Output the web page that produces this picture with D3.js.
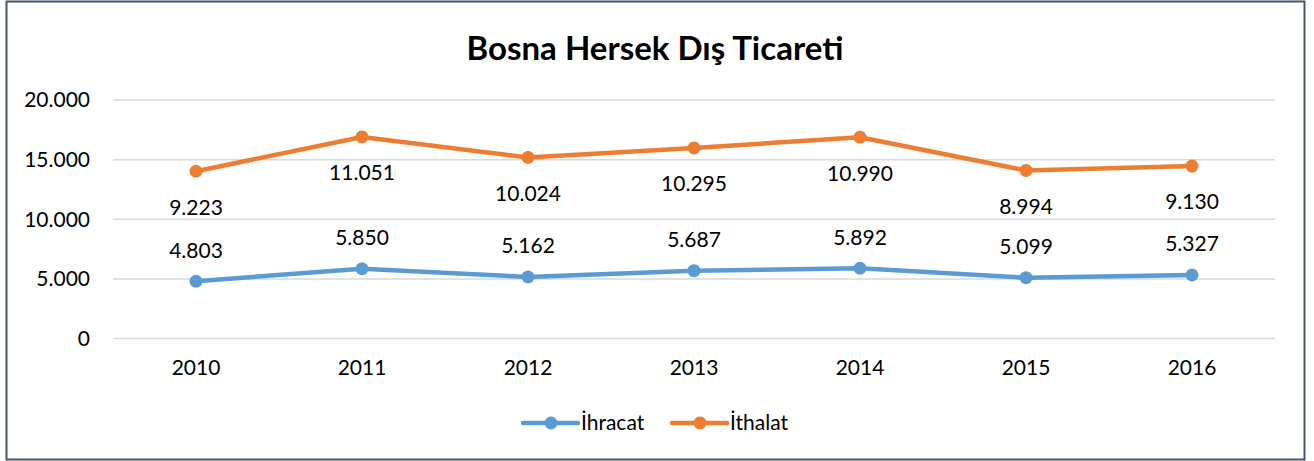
<!DOCTYPE html>
<html><head><meta charset="utf-8">
<script src="https://cdn.jsdelivr.net/npm/d3@7"></script>
<style>body{margin:0;background:#fff}svg{display:block}text{font-family:Lato,"Open Sans",sans-serif}</style>
</head><body><svg id="c" width="1314" height="461"></svg>
<script>
const years = ["2010","2011","2012","2013","2014","2015","2016"];
const ihracat = [4803,5850,5162,5687,5892,5099,5327];
const ithalat = [9223,11051,10024,10295,10990,8994,9130];
const yTicks = [0,5000,10000,15000,20000];
const title = "Bosna Hersek Dış Ticareti";
const seriesNames = ["İhracat","İthalat"];
const colors = ["#5B9BD5","#ED7D31"];

const FS = 21;
const svg = d3.select("#c");
svg.append("rect").attr("x",6.5).attr("y",1.5).attr("width",1298).attr("height",458)
  .attr("fill","#fff").attr("stroke","#44546A").attr("stroke-width",2);

svg.append("text").attr("x",655).attr("y",60).attr("text-anchor","middle")
  .attr("font-size",33).attr("font-weight","bold").attr("fill","#000").text(title);

const x = d3.scaleBand().domain(years).range([113,1275]);
const y = d3.scaleLinear().domain([0,20000]).range([338.5,100]);
const fmt = v => d3.format(",")(v).replace(/,/g,".");

const grid = svg.append("g");
yTicks.forEach(t=>{
  grid.append("line").attr("x1",113).attr("x2",1275).attr("y1",y(t)).attr("y2",y(t))
    .attr("stroke","#D9D9D9").attr("stroke-width",1.5);
  grid.append("text").attr("x",90).attr("y",y(t)).attr("dy","0.35em").attr("text-anchor","end")
    .attr("font-size",FS).attr("fill","#000").text(fmt(t));
});
const xAxis = svg.append("g").attr("transform","translate(0,338.5)")
  .call(d3.axisBottom(x).tickSize(0).tickPadding(22));
xAxis.select(".domain").remove();
xAxis.selectAll("text").attr("font-size",FS).attr("fill","#000").attr("font-family","Lato,'Open Sans',sans-serif");

const stacked = ithalat.map((v,i)=>v+ihracat[i]);
const cx = d => x(d)+x.bandwidth()/2;
const line = d3.line().x((d,i)=>cx(years[i])).y(d=>y(d));

[[ihracat,ihracat,-31],[stacked,ithalat,36]].forEach(([vals,labels,off],k)=>{
  svg.append("path").datum(vals).attr("d",line).attr("fill","none")
    .attr("stroke",colors[k]).attr("stroke-width",4.5).attr("stroke-linejoin","round").attr("stroke-linecap","round");
  svg.selectAll(null).data(vals).enter().append("circle")
    .attr("cx",(d,i)=>cx(years[i])).attr("cy",d=>y(d)).attr("r",6.5).attr("fill",colors[k]);
  svg.selectAll(null).data(vals).enter().append("text")
    .attr("x",(d,i)=>cx(years[i])).attr("y",d=>y(d)+off).attr("dy","0.35em")
    .attr("text-anchor","middle").attr("font-size",FS).attr("fill","#000")
    .text((d,i)=>fmt(labels[i]));
});

const legX = [523,672];
seriesNames.forEach((n,k)=>{
  const g = svg.append("g").attr("transform",`translate(${legX[k]},423)`);
  g.append("line").attr("x1",0).attr("x2",55).attr("stroke",colors[k]).attr("stroke-width",4.5).attr("stroke-linecap","round");
  g.append("circle").attr("cx",28).attr("r",6.5).attr("fill",colors[k]);
  g.append("text").attr("x",58).attr("dy","0.35em").attr("font-size",FS).attr("fill","#000").text(n);
});
</script></body></html>
